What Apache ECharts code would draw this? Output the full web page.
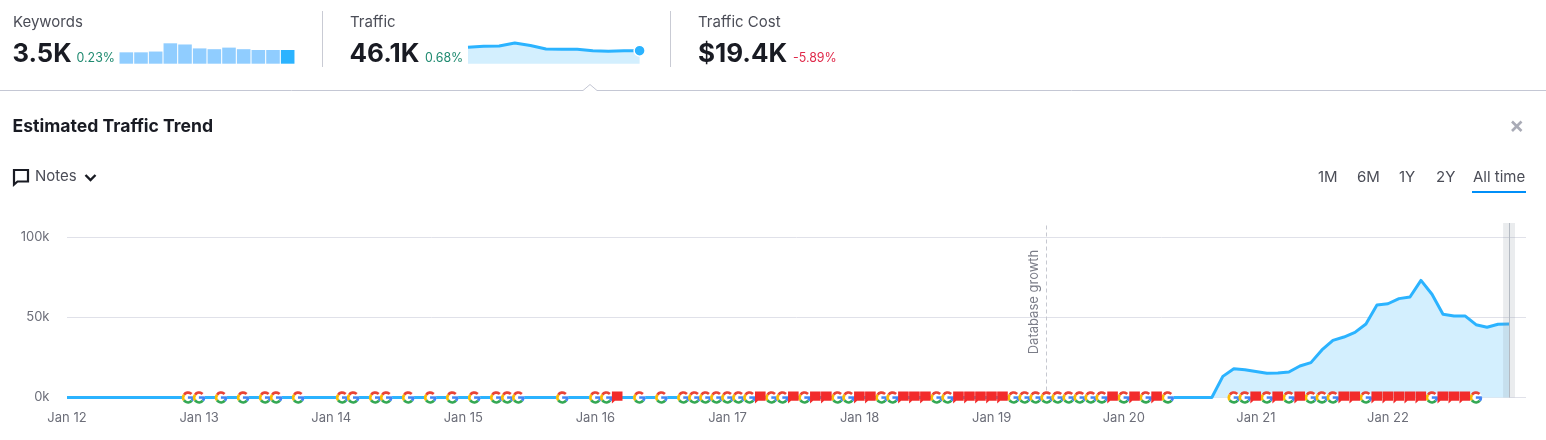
<!DOCTYPE html>
<html><head><meta charset="utf-8">
<style>html,body{margin:0;padding:0;background:#fff}#c{width:1546px;height:440px}</style>
<script src="https://cdn.jsdelivr.net/npm/echarts@6/dist/echarts.min.js"></script>
</head><body><div id="c"></div>
<script>
const yearLabels = ['Jan 12','Jan 13','Jan 14','Jan 15','Jan 16','Jan 17','Jan 18','Jan 19','Jan 20','Jan 21','Jan 22'];
const traffic = [0,0,0,0,0,0,0,0,0,0,0,0, 0,0,0,0,0,0,0,0,0,0,0,0, 0,0,0,0,0,0,0,0,0,0,0,0,
 0,0,0,0,0,0,0,0,0,0,0,0, 0,0,0,0,0,0,0,0,0,0,0,0, 0,0,0,0,0,0,0,0,0,0,0,0,
 0,0,0,0,0,0,0,0,0,0,0,0, 0,0,0,0,0,0,0,0,0,0,0,0, 0,0,0,0,0,0,0,0,0,13.2,18,17.4,
 16.2,15.1,15.3,15.9,19.7,21.8,29.7,35.7,37.8,40.7,45.9,57.8,
 58.6,61.8,62.8,73.2,64.5,52,51,51,45.5,43.9,45.8,46];
const googleMonths = [11,12,14,16,18,19,21,25,26,28,29,31,33,35,37,39,40,41,45,48,49,52,54,56,57,58,59,60,61,62,64,65,67,70,71,74,75,79,80,86,87,88,89,90,91,92,93,94,96,98,100,106,107,109,111,113,114,115,118,124,128];
const flagMonths = [50,63,66,68,69,72,73,76,77,78,81,82,83,84,85,95,97,99,108,110,112,116,117,119,120,121,122,123,125,126,127];
const databaseGrowthMonth = [89];
const cursorMonth = [131];
const keywordBars = [2.9,2.9,3.1,5.2,4.9,3.9,3.7,4.1,3.7,3.5,3.5,3.5];
const trafficSpark = [58.6,61.8,62.8,73.2,64.5,52,51,51,45.5,43.9,45.8,46];
const periods = ['1M','6M','1Y','2Y','All time'];

const FONT = 'Inter, "Noto Sans", sans-serif';
const BLUE = '#2bb3ff', AXIS = '#6c6e79', RULE = '#e0e1e9';
const T = (x,y,text,fontSize,fill,weight,extra) => ({type:'text',x,y,silent:true,z:20,
  style:Object.assign({text,font:(weight||400)+' '+fontSize+'px '+FONT,fill,textVerticalAlign:'middle'},extra||{})});
const L = (x1,y1,x2,y2,stroke,lineWidth) => ({type:'line',silent:true,z:20,shape:{x1,y1,x2,y2},style:{stroke,lineWidth:lineWidth||1}});

function renderG(params, api){
  const p = api.coord([api.value(0), 0]);
  const r = 4.9, lw = 2.7;
  const arc = (a,b,c) => ({type:'arc',shape:{cx:p[0],cy:p[1],r,startAngle:a*Math.PI/180,endAngle:b*Math.PI/180,clockwise:true},style:{stroke:c,fill:'none',lineWidth:lw}});
  return {type:'group',children:[
    {type:'circle',shape:{cx:p[0],cy:p[1],r:6},style:{fill:'#fff'}},
    arc(-145,-45,'#ea4335'),
    arc(145,215,'#fbbc05'),
    arc(40,145,'#34a853'),
    arc(0,40,'#4285f4'),
    {type:'rect',shape:{x:p[0]-0.2,y:p[1]-1.2,width:6,height:2.5},style:{fill:'#4285f4'}}
  ]};
}
function renderFlag(params, api){
  const p = api.coord([api.value(0), 0]);
  const x = p[0]-5.5, y = p[1]-6;
  return {type:'polygon',shape:{points:[[x,y],[x+10.6,y],[x+10.6,y+9.2],[x+3,y+9.2],[x,y+12]]},style:{fill:'#f22b2b'}};
}

const chart = echarts.init(document.getElementById('c'),null,{renderer:'canvas'});
chart.setOption({
  animation:false,
  backgroundColor:'#fff',
  grid:[
    {left:67,top:223,width:1459,height:174.5},
    {left:119,top:43.3,width:176,height:20.4},
    {left:468,top:43,width:171.6,height:20.7}
  ],
  xAxis:[
    {type:'value',gridIndex:0,min:0,max:132.54,interval:12,splitLine:{show:false},axisLine:{show:false},axisTick:{show:false},
      axisLabel:{showMaxLabel:false,showMinLabel:true,margin:14,color:AXIS,fontSize:13,fontFamily:FONT,
        formatter:v=>yearLabels[v/12]||''}},
    {type:'category',gridIndex:1,data:keywordBars.map((_,i)=>i),show:false},
    {type:'category',gridIndex:2,data:trafficSpark.map((_,i)=>i),boundaryGap:false,show:false}
  ],
  yAxis:[
    {type:'value',gridIndex:0,min:0,max:109.06,interval:50,
      splitLine:{show:true,showMaxLine:false,lineStyle:{color:RULE,width:1}},axisLine:{show:false},axisTick:{show:false},
      axisLabel:{showMaxLabel:false,margin:17.5,color:AXIS,fontSize:13,fontFamily:FONT,formatter:v=>v+'k'}},
    {type:'value',gridIndex:1,min:0,max:5.2,show:false,splitLine:{show:false}},
    {type:'value',gridIndex:2,min:0,max:73.2,show:false,splitLine:{show:false}}
  ],
  series:[
    {type:'line',name:'Traffic',xAxisIndex:0,yAxisIndex:0,data:traffic.map((v,i)=>[i,v]),showSymbol:false,symbol:'none',z:3,clip:false,
      lineStyle:{color:BLUE,width:3,join:'round'},areaStyle:{color:'#d3effe',opacity:1},
      markLine:{silent:true,symbol:'none',z:2,label:{show:false},
        lineStyle:{color:'#c6c8d0',type:[4,3],width:1},data:databaseGrowthMonth.map(m=>({xAxis:m}))}
    },
    {type:'line',name:'Cursor',xAxisIndex:0,yAxisIndex:0,data:[],z:4,
      markArea:{silent:true,z:4,itemStyle:{color:'rgba(140,150,160,0.18)'},
        data:cursorMonth.map(m=>[{xAxis:m-0.54},{xAxis:m+0.54}])},
      markLine:{silent:true,symbol:'none',z:4,label:{show:false},lineStyle:{color:'#b4bac2',type:'solid',width:1},
        data:cursorMonth.map(m=>({xAxis:m}))}
    },
    {type:'custom',name:'Google updates',xAxisIndex:0,yAxisIndex:0,coordinateSystem:'cartesian2d',z:5,clip:false,
      data:googleMonths.map(m=>[m,0]),renderItem:renderG,encode:{x:0,y:1}},
    {type:'custom',name:'Notes',xAxisIndex:0,yAxisIndex:0,coordinateSystem:'cartesian2d',z:6,clip:false,
      data:flagMonths.map(m=>[m,0]),renderItem:renderFlag,encode:{x:0,y:1}},
    {type:'bar',name:'Keywords',xAxisIndex:1,yAxisIndex:1,barWidth:13.6,
      data:keywordBars.map((v,i)=>({value:v,itemStyle:{color:i===keywordBars.length-1?BLUE:'#90cdff'}}))},
    {type:'line',name:'Traffic spark',xAxisIndex:2,yAxisIndex:2,data:trafficSpark,showSymbol:false,symbol:'none',z:3,clip:false,
      lineStyle:{color:BLUE,width:3},areaStyle:{color:'#d3effe',opacity:1}},
    {type:'scatter',name:'Traffic now',xAxisIndex:2,yAxisIndex:2,z:5,symbol:'circle',symbolSize:11,clip:false,
      data:trafficSpark.map((v,i)=>i===trafficSpark.length-1?[i,v]:null).filter(Boolean),
      itemStyle:{color:BLUE,borderColor:'#fff',borderWidth:1.5,opacity:1}}
  ],
  graphic:{elements:[
    T(13,22.5,'Keywords',15,'#4b4d57'),
    T(12.5,54,'3.5K',25.6,'#191b23',700),
    T(76.5,58,'0.23%',12.4,'#1f8a70'),
    L(322.5,11,322.5,67,'#c9cbd4'),
    T(350,22.5,'Traffic',15,'#4b4d57'),
    T(349.5,54,'46.1K',26,'#191b23',700),
    T(425,58,'0.68%',12.4,'#1f8a70'),
    L(670.5,11,670.5,67,'#c9cbd4'),
    T(698,22.5,'Traffic Cost',15,'#4b4d57'),
    T(698,54,'$19.4K',26,'#191b23',700),
    T(793,58,'-5.89%',12.4,'#e0294a'),
    {type:'polyline',silent:true,z:20,shape:{points:[[0,90.5],[583,90.5],[590,84.5],[597,90.5],[1546,90.5]]},style:{stroke:'#c4c7d4',lineWidth:1,fill:'none'}},
    T(12.5,126.5,'Estimated Traffic Trend',17.6,'#191b23',700),
    {type:'polygon',silent:true,z:20,shape:{points:[[14,170],[28,170],[28,181.5],[17.5,181.5],[14,184.5]]},style:{stroke:'#191b23',lineWidth:2.2,fill:'none'}},
    T(35,176,'Notes',15,'#4b4d57'),
    {type:'polyline',silent:true,z:20,shape:{points:[[85.5,175],[90.5,180],[95.5,175]]},style:{stroke:'#191b23',lineWidth:2.4,fill:'none'}},
    L(1512,121.5,1521.5,131,'#a9abb6',2.6),
    L(1521.5,121.5,1512,131,'#a9abb6',2.6),
    T(1318,177,periods[0],15,'#4b4d57'),
    T(1357,177,periods[1],15,'#4b4d57'),
    T(1399,177,periods[2],15,'#4b4d57'),
    T(1436,177,periods[3],15,'#4b4d57'),
    T(1473,177,periods[4],15,'#4b4d57'),
    {type:'rect',silent:true,z:20,shape:{x:1472,y:191,width:54,height:2},style:{fill:'#008ff8'}},
    {type:'text',silent:true,z:20,x:1034,y:302,rotation:Math.PI/2,
      style:{text:'Database growth',font:'400 13px '+FONT,fill:'#7b7d88',textAlign:'center',textVerticalAlign:'middle'}}
  ]}
});
</script></body></html>
